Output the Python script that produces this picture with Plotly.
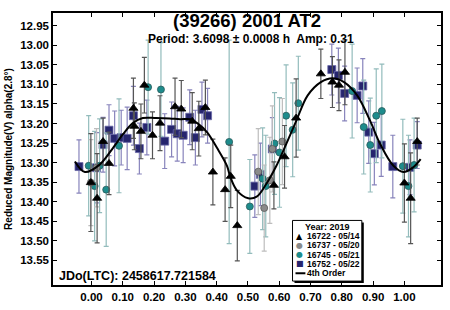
import plotly.graph_objects as go

# ---------------- data ----------------
# 16722 - 05/14 (black triangles)
ph_16722 = [-0.002, 0.018, 0.037, 0.056, 0.134, 0.137, 0.158, 0.169, 0.195, 0.219,
            0.267, 0.287, 0.322, 0.343, 0.364, 0.388, 0.427, 0.445, 0.466, 0.583,
            0.617, 0.654, 0.733, 0.770, 0.791, 0.810, 1.000, 1.020, 1.041]
mag_16722 = [13.351, 13.391, 13.246, 13.302, 13.161, 13.207, 13.220, 13.102, 13.230, 13.199,
             13.157, 13.163, 13.194, 13.213, 13.159, 13.324, 13.369, 13.335, 13.461, 13.358,
             13.285, 13.186, 13.073, 13.094, 13.102, 13.069, 13.352, 13.391, 13.246]
err_16722 = [0.125, 0.114, 0.060, 0.080, 0.077, 0.060, 0.070, 0.071, 0.060, 0.070,
             0.073, 0.073, 0.073, 0.070, 0.070, 0.084, 0.081, 0.080, 0.090, 0.060,
             0.080, 0.100, 0.063, 0.065, 0.065, 0.083, 0.100, 0.116, 0.060]

# 16737 - 05/20 (gray circles)
ph_16737 = [-0.002, 0.016, 0.533, 0.552, 0.570, 0.578, 0.610]
mag_16737 = [13.351, 13.313, 13.323, 13.416, 13.345, 13.265, 13.246]
err_16737 = [0.110, 0.100, 0.110, 0.110, 0.110, 0.110, 0.110]

# 16745 - 05/21 (teal circles)
ph_16745 = [-0.009, 0.010, 0.026, 0.047, 0.088, 0.181, 0.222, 0.440, 0.506, 0.547,
            0.557, 0.585, 0.601, 0.622, 0.643, 0.661, 0.833, 0.870, 0.891, 0.910,
            0.928, 0.995, 1.013, 1.031]
mag_16745 = [13.308, 13.360, 13.308, 13.369, 13.257, 13.107, 13.113, 13.247, 13.412, 13.341,
             13.360, 13.251, 13.274, 13.180, 13.216, 13.148, 13.117, 13.209, 13.255, 13.180,
             13.168, 13.309, 13.360, 13.306]
err_16745 = [0.128, 0.140, 0.120, 0.145, 0.120, 0.120, 0.120, 0.260, 0.120, 0.130,
             0.130, 0.130, 0.140, 0.130, 0.120, 0.120, 0.120, 0.120, 0.120, 0.120,
             0.120, 0.120, 0.130, 0.120]

# 16752 - 05/22 (navy squares)
ph_16752 = [-0.040, 0.016, 0.037, 0.056, 0.074, 0.095, 0.114, 0.134, 0.153, 0.177,
            0.234, 0.256, 0.274, 0.293, 0.314, 0.332, 0.353, 0.371, 0.522, 0.540,
            0.578, 0.768, 0.789, 0.809, 0.849, 0.867, 0.886, 0.904, 0.926, 0.963,
            1.018, 1.041]
mag_16752 = [13.310, 13.313, 13.254, 13.217, 13.238, 13.236, 13.238, 13.180, 13.264, 13.210,
             13.245, 13.215, 13.226, 13.230, 13.184, 13.236, 13.164, 13.180, 13.360, 13.330,
             13.265, 13.062, 13.077, 13.123, 13.128, 13.104, 13.222, 13.277, 13.255, 13.310,
             13.312, 13.255]
err_16752 = [0.068, 0.090, 0.070, 0.065, 0.070, 0.070, 0.080, 0.075, 0.065, 0.070,
             0.070, 0.070, 0.070, 0.070, 0.070, 0.070, 0.070, 0.070, 0.080, 0.080,
             0.080, 0.065, 0.070, 0.070, 0.070, 0.070, 0.080, 0.080, 0.080, 0.080,
             0.070, 0.060]

# 4th order fit curve
ph_fit = [-0.053, -0.021, 0.026, 0.069, 0.100, 0.132, 0.164, 0.206, 0.250, 0.283,
          0.316, 0.338, 0.369, 0.401, 0.433, 0.443, 0.464, 0.501, 0.528, 0.559,
          0.591, 0.617, 0.654, 0.691, 0.733, 0.770, 0.807, 0.849, 0.891, 0.923,
          0.965, 0.997, 1.028, 1.052]
mag_fit = [13.297, 13.324, 13.305, 13.262, 13.228, 13.199, 13.186, 13.186, 13.187, 13.189,
           13.189, 13.199, 13.222, 13.262, 13.308, 13.335, 13.370, 13.391, 13.387, 13.354,
           13.308, 13.262, 13.194, 13.128, 13.094, 13.084, 13.094, 13.128, 13.194, 13.253,
           13.308, 13.324, 13.312, 13.291]

x_ticks = [0.0, 0.1, 0.2, 0.3, 0.4, 0.5, 0.6, 0.7, 0.8, 0.9, 1.0]
x_ticklabels = ["0.00", "0.10", "0.20", "0.30", "0.40", "0.50", "0.60", "0.70", "0.80", "0.90", "1.00"]
y_ticks = [12.95, 13.00, 13.05, 13.10, 13.15, 13.20, 13.25, 13.30, 13.35, 13.40, 13.45, 13.50, 13.55]
legend_labels = ["16722 - 05/14", "16737 - 05/20", "16745 - 05/21", "16752 - 05/22", "4th Order"]

# ---------------- layout geometry ----------------
W, H = 450, 310
L, R, T, B = 51, 7, 13, 19
PW, PH = W - L - R, H - T - B
FONT = "Arial, Liberation Sans, sans-serif"


def px(x):
    return (x - L) / PW


def py(y):
    return (H - B - y) / PH


fig = go.Figure()


def add_series(xs, ys, es, symbol, size, fill, line_col, bar_col):
    fig.add_trace(go.Scatter(
        x=xs, y=ys, mode="markers",
        error_y=dict(type="data", array=es, visible=True, color=bar_col,
                     thickness=1.2, width=2.5),
        marker=dict(symbol=symbol, size=size, color=fill,
                    line=dict(color=line_col, width=0.8)),
        showlegend=False, hoverinfo="skip"))


add_series(ph_16752, mag_16752, err_16752, "square", 8, "#26256e", "#6a68a8", "#8884bc")
add_series(ph_16745, mag_16745, err_16745, "circle", 7, "#1d8c8c", "#2a5a5a", "#93bcbc")
add_series(ph_16737, mag_16737, err_16737, "circle", 7, "#8a8a8a", "#5a5a5a", "#bdbdbd")
add_series(ph_16722, mag_16722, err_16722, "triangle-up", 8, "#000000", "#000000", "#555555")

fig.add_trace(go.Scatter(x=ph_fit, y=mag_fit, mode="lines",
                         line=dict(color="black", width=2, shape="spline", smoothing=1.0),
                         showlegend=False, hoverinfo="skip"))

fig.update_xaxes(range=[-0.123, 1.117], tickvals=x_ticks, ticktext=x_ticklabels,
                 ticks="inside", ticklen=4, tickcolor="black", showline=True,
                 linecolor="black", linewidth=1.5, mirror="ticks", showgrid=False,
                 zeroline=False,
                 tickfont=dict(family=FONT, size=11.5, color="black", weight="bold"))
fig.update_yaxes(range=[13.6128, 12.9174], tickvals=y_ticks,
                 ticktext=["%.2f" % v for v in y_ticks],
                 ticks="inside", ticklen=4, tickcolor="black", showline=True,
                 linecolor="black", linewidth=1.5, mirror="ticks", showgrid=False,
                 zeroline=False,
                 title=dict(text="Reduced Magnitude(V) alpha(2.8°)", standoff=6,
                            font=dict(family=FONT, size=10, color="black", weight="bold")),
                 tickfont=dict(family=FONT, size=11.5, color="black", weight="bold"))

ann = []


def note(x, y, text, size, xanchor="center", family=FONT, color="black"):
    ann.append(dict(x=px(x), y=py(y), xref="paper", yref="paper", text=text,
                    xanchor=xanchor, yanchor="middle", showarrow=False,
                    font=dict(family=family, size=size, color=color)))


note(247, 21, "<b>(39266) 2001 AT2</b>", 18.5)
note(251, 39.5, "<b>Period: 3.6098 ± 0.0008 h  Amp: 0.31</b>", 12)
note(55, 282, "<b>JDo(LTC): 2458617.721584</b>", 12.5, xanchor="left")

# custom legend box
shapes = []
lx0, lx1, ly0, ly1 = 293, 363, 225, 287
shapes.append(dict(type="rect", xref="paper", yref="paper", x0=px(lx0 + 2), x1=px(lx1 + 2),
                   y0=py(ly1 + 2), y1=py(ly0 + 2), fillcolor="black", line=dict(width=0)))
shapes.append(dict(type="rect", xref="paper", yref="paper", x0=px(lx0), x1=px(lx1),
                   y0=py(ly1), y1=py(ly0), fillcolor="white", line=dict(color="black", width=1)))
note(328, 231.5, "<b>Year: 2019</b>", 9)
sym = [("▲", "#000000"), ("●", "#8a8a8a"), ("●", "#1d8c8c"), ("■", "#26256e")]
rows = [241, 250.5, 260, 269.5, 279]
for i, (s, c) in enumerate(sym):
    note(300.5, rows[i], s, 8, family="DejaVu Sans", color=c)
for i, lab in enumerate(legend_labels):
    note(306, rows[i], "<b>%s</b>" % lab, 8.5, xanchor="left")
shapes.append(dict(type="line", xref="paper", yref="paper", x0=px(296), x1=px(306),
                   y0=py(rows[4]), y1=py(rows[4]), line=dict(color="black", width=2)))

fig.update_layout(width=W, height=H, margin=dict(l=L, r=R, t=T, b=B),
                  paper_bgcolor="white", plot_bgcolor="white",
                  annotations=ann, shapes=shapes, showlegend=False)

fig.write_html("out.html", config={"displayModeBar": False},
               post_script="document.body.style.margin='0';document.body.style.overflow='hidden';")
